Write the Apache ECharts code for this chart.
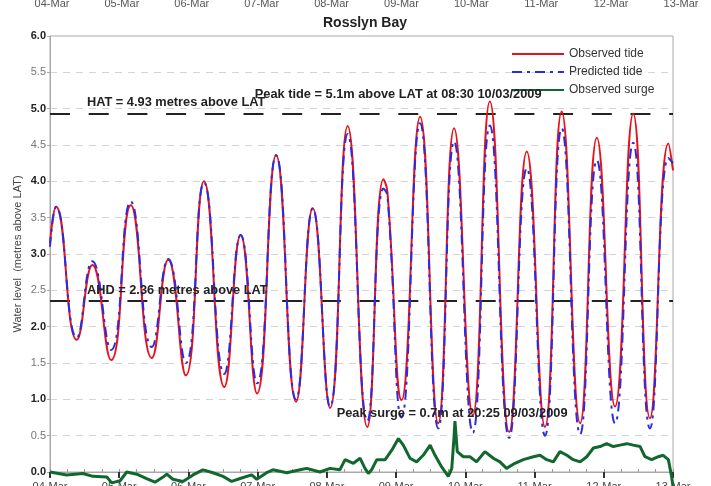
<!DOCTYPE html>
<html>
<head>
<meta charset="utf-8">
<script src="https://cdn.jsdelivr.net/npm/echarts@6/dist/echarts.min.js"></script>
<style>
html,body{margin:0;padding:0;background:#fff;}
#main{width:711px;height:486px;}
</style>
</head>
<body>
<div id="main"></div>
<script>
// ---- data (hours since 04-Mar 00:00) ----
const dayLabels = ['04-Mar','05-Mar','06-Mar','07-Mar','08-Mar','09-Mar','10-Mar','11-Mar','12-Mar','13-Mar'];
const tideHours = [0,2.1,9.3,14.7,21.2,28.0,35.3,41.0,47.1,53.4,60.4,66.1,71.8,78.4,85.3,91.1,97.1,103.2,110.0,115.6,117.0,121.9,128.3,134.6,140.1,146.6,152.5,159.2,165.3,171.6,177.4,183.8,189.6,195.9,202.2,208.0,214.4,216];
const observedTide = [3.15,3.65,1.82,2.85,1.54,3.67,1.57,2.92,1.33,4.00,1.17,3.26,1.08,4.36,0.97,3.63,0.88,4.76,0.62,4.03,3.85,0.99,4.89,0.67,4.73,0.78,5.10,0.55,4.41,0.62,4.96,0.67,4.60,0.90,4.93,0.74,4.52,4.15];
const predictedTide = [3.10,3.65,1.85,2.90,1.68,3.72,1.72,2.93,1.50,3.98,1.35,3.26,1.22,4.36,1.00,3.63,0.90,4.65,0.70,3.90,3.80,0.75,4.80,0.60,4.55,0.54,4.77,0.47,4.18,0.50,4.73,0.52,4.29,0.67,4.53,0.60,4.32,4.25];
const surgeHours = [0,5.8,11.4,14.9,19.7,21.4,24.3,26.6,30.1,33.5,36.4,39.2,40.5,42.6,46.1,49.6,53.0,56.5,60.0,63.0,65.9,69.9,71.7,75.1,77.3,82.1,86.7,89.0,93.6,
  97.1,100.5,102.3,105.2,107.5,109.2,110.4,111.5,113.3,116.2,118.5,120.8,122.5,124.8,127.1,129.4,131.8,133.5,135.8,138.1,139.3,140.1,140.4,141.2,143.3,145.6,147.9,150.8,153.7,156.0,
  158.3,161.2,164.1,167.6,169.9,172.2,174.5,176.8,179.2,181.4,183.8,186.1,188.4,190.7,193.0,195.3,197.6,200.0,202.2,204.6,206.3,208.6,210.9,212.6,214.4,215.5,216];
const observedSurge = [0.00,-0.04,-0.02,-0.06,-0.07,-0.15,-0.12,0.00,-0.03,-0.09,-0.14,-0.07,-0.03,-0.10,-0.13,-0.04,0.03,-0.01,-0.06,-0.13,-0.09,-0.04,-0.10,-0.01,0.03,-0.01,0.03,0.05,0.00,
  0.05,0.03,0.17,0.12,0.19,0.05,-0.02,0.03,0.17,0.17,0.30,0.46,0.37,0.19,0.14,0.23,0.37,0.23,0.07,-0.06,0.05,0.49,0.70,0.28,0.21,0.21,0.14,0.28,0.19,0.14,
  0.05,0.12,0.17,0.21,0.23,0.17,0.14,0.28,0.23,0.17,0.14,0.21,0.33,0.35,0.39,0.35,0.37,0.39,0.37,0.35,0.21,0.17,0.21,0.23,0.17,-0.06,-0.20];
const HAT = 4.93;
const AHD = 2.36;
const peakTide = [152.5, 5.10];
const peakSurge = [140.4, 0.70];

const FONT = 'Liberation Sans, Arial, sans-serif';
const zip = (a, b) => a.map((v, i) => [v, b[i]]);

const chart = echarts.init(document.getElementById('main'), null, {renderer: 'canvas'});
const option = {
  animation: false,
  backgroundColor: '#fff',
  textStyle: {fontFamily: FONT},
  title: {
    text: 'Rosslyn Bay', left: 360, top: 11, textAlign: 'center',
    textStyle: {fontFamily: FONT, fontSize: 14, fontWeight: 'bold', color: '#222'}
  },
  legend: {
    orient: 'vertical', left: 511, top: 48, padding: 0, itemWidth: 52, itemHeight: 14, itemGap: 6,
    itemStyle: {opacity: 0},
    textStyle: {fontFamily: FONT, fontSize: 12, color: '#333'},
    data: ['Observed tide', 'Predicted tide', 'Observed surge']
  },
  grid: [
    {left: 50, right: 38, top: 36, bottom: 14, show: true, borderColor: '#a8a8a8', borderWidth: 1, outerBoundsMode: 'none', containLabel: false},
    {left: 52, right: 30, top: 14, height: 10, show: false, outerBoundsMode: 'none', containLabel: false}
  ],
  xAxis: [
    {
      gridIndex: 0, type: 'value', min: 0, max: 216, interval: 24, position: 'bottom',
      axisLine: {lineStyle: {color: '#a8a8a8'}},
      axisTick: {show: true, length: 6, lineStyle: {color: '#333', width: 2}},
      axisLabel: {margin: 9, fontSize: 11, color: '#444', formatter: v => dayLabels[Math.round(v / 24)] || ''},
      splitLine: {show: false}
    },
    {
      gridIndex: 0, type: 'value', min: 0, max: 216, interval: 6, position: 'bottom',
      axisLine: {show: false},
      axisTick: {show: true, inside: true, length: 3, lineStyle: {color: '#999'}},
      axisLabel: {show: false}, splitLine: {show: false}
    },
    {
      gridIndex: 1, type: 'value', min: 0, max: 9, interval: 1, position: 'top',
      axisLine: {show: false}, axisTick: {show: false}, splitLine: {show: false},
      axisLabel: {margin: 5, fontSize: 11, color: '#555', formatter: v => dayLabels[Math.round(v)] || ''}
    }
  ],
  yAxis: [
    {
      gridIndex: 0, type: 'value', min: 0, max: 6, interval: 0.5,
      name: 'Water level  (metres above LAT)', nameLocation: 'middle', nameGap: 27, nameMoveOverlap: false,
      nameTextStyle: {fontFamily: FONT, fontSize: 11, color: '#444'},
      axisLine: {show: true, lineStyle: {color: '#a8a8a8'}},
      axisTick: {show: true, length: 3, lineStyle: {color: '#a8a8a8'}},
      axisLabel: {
        margin: 4,
        formatter: v => (Math.abs(v - Math.round(v)) < 1e-6 ? '{b|' + v.toFixed(1) + '}' : '{l|' + v.toFixed(1) + '}'),
        rich: {
          b: {fontFamily: FONT, fontSize: 11, fontWeight: 'bold', color: '#222'},
          l: {fontFamily: FONT, fontSize: 11, color: '#777'}
        }
      },
      splitLine: {show: true, lineStyle: {color: '#d4d4d4', type: [7, 6]}}
    },
    {gridIndex: 1, type: 'value', show: false, min: 0, max: 1}
  ],
  series: [
    {
      name: 'Observed tide', type: 'line', xAxisIndex: 0, yAxisIndex: 0,
      data: zip(tideHours, observedTide), smooth: 0.5, symbol: 'none', z: 3,
      lineStyle: {color: '#e8121a', width: 2}, itemStyle: {color: '#e8121a', opacity: 0},
      markLine: {
        silent: true, symbol: 'none', z: 2,
        label: {show: false},
        lineStyle: {color: '#222', width: 2, type: [20, 18.7], opacity: 1},
        data: [{yAxis: HAT}, {yAxis: AHD}]
      }
    },
    {
      name: 'Predicted tide', type: 'line', xAxisIndex: 0, yAxisIndex: 0,
      data: zip(tideHours, predictedTide), smooth: 0.5, symbol: 'none', z: 4,
      lineStyle: {color: '#2b2be0', width: 2, type: [10, 5, 3, 5]}, itemStyle: {color: '#2b2be0', opacity: 0}
    },
    {
      name: 'Observed surge', type: 'line', xAxisIndex: 0, yAxisIndex: 0,
      data: zip(surgeHours, observedSurge), symbol: 'none', clip: false, z: 5,
      lineStyle: {color: '#10682f', width: 3}, itemStyle: {color: '#10682f', opacity: 0}
    }
  ]
};
chart.setOption(option);

// annotations anchored to data coordinates
const px = (h, v) => chart.convertToPixel({xAxisIndex: 0, yAxisIndex: 0}, [h, v]);
const txt = {fontFamily: FONT, fontSize: 12.8, fontWeight: 'bold', fill: '#222'};
const hatP = px(12.8, HAT);
const ahdP = px(12.8, AHD);
const ptP = px(120.7, 5.2);
const psP = px(139.4, 0.81);
chart.setOption({
  graphic: [
    {type: 'text', x: hatP[0], y: hatP[1] - 11, style: Object.assign({text: 'HAT = ' + HAT.toFixed(2) + ' metres above LAT', align: 'left', verticalAlign: 'middle'}, txt), z: 10},
    {type: 'text', x: ahdP[0], y: ahdP[1] - 10, style: Object.assign({text: 'AHD = ' + AHD.toFixed(2) + ' metres above LAT', align: 'left', verticalAlign: 'middle'}, txt), z: 10},
    {type: 'text', x: ptP[0], y: ptP[1], style: Object.assign({text: 'Peak tide = ' + peakTide[1].toFixed(1) + 'm above LAT at 08:30 10/03/2009', align: 'center', verticalAlign: 'middle'}, txt), z: 10},
    {type: 'text', x: psP[0], y: psP[1], style: Object.assign({text: 'Peak surge = ' + peakSurge[1].toFixed(1) + 'm at 20:25 09/03/2009', align: 'center', verticalAlign: 'middle'}, txt), z: 10}
  ]
});
</script>
</body>
</html>
